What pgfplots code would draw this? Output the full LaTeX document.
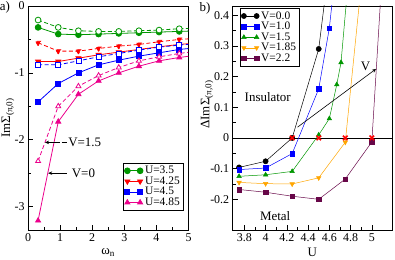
\documentclass[border=0pt]{standalone}
\usepackage{fontspec}
\setmainfont{Liberation Serif}
\usepackage{pgfplots}
\pgfplotsset{compat=1.18}
\usetikzlibrary{arrows.meta}
\definecolor{ggreen}{RGB}{0,150,0}
\definecolor{gorange}{RGB}{255,165,0}
\definecolor{gmaroon}{RGB}{103,7,72}
\pgfplotsset{
  common/.style={
    scale only axis, height=224bp,
    tick align=inside, xtick pos=bottom, ytick pos=left,
    major tick length=5bp, minor tick length=3bp,
    /pgf/number format/assume math mode=true,
    tick label style={font=\fontsize{12}{12}\selectfont},
    label style={font=\fontsize{13}{13}\selectfont},
    axis line style={line width=0.9pt},
    every tick/.style={black, line width=0.6pt},
    legend cell align=left,
    legend style={font=\fontsize{11.5}{11.5}\selectfont, draw=black, line width=0.5pt, inner sep=1pt, row sep=-2.5pt},
    legend image code/.code={\draw plot coordinates {(0cm,0cm) (0.45cm,0cm)};},
  },
  solidser/.style={line width=0.8pt, mark size=2.9bp},
  dashser/.style={line width=0.8pt, dash pattern=on 4bp off 2.5bp, mark size=2.9bp, mark options={solid, fill=white}},
}
\begin{document}
\begin{tikzpicture}[font=\fontsize{13}{13}\selectfont]
\path[use as bounding box] (-28bp,-30bp) rectangle (367bp,230bp);
\node at (-23bp,223bp) {a)};
\node at (177bp,222bp) {b)};
\begin{axis}[common, at={(0,0)}, anchor=south west, width=160.5bp,
  xmin=0, xmax=5, ymin=-3.35, ymax=0,
  xtick={0,1,2,3,4,5}, minor x tick num=1,
  ytick={-3,-2,-1,0}, yticklabels={-3,-2,-1,0}, minor y tick num=1,
  xlabel={ω\textsubscript{n}}, ylabel={ImΣ\textsubscript{(π,0)}},
  x label style={at={(axis description cs:0.5,-0.1)}, anchor=center},
  y label style={at={(axis description cs:-0.125,0.5)}, anchor=center},
  legend style={at={(0.966,0.299)}, anchor=north east},
]
\addplot[solidser, ggreen, mark=*] coordinates {(0.314159,-0.32)(0.942478,-0.42)(1.570796,-0.43)(2.199115,-0.42)(2.827433,-0.41)(3.455752,-0.40)(4.084070,-0.39)(4.712389,-0.38)(5.340708,-0.37)};
\addlegendentry{U=3.5}
\addplot[solidser, red, mark=triangle*, mark options={rotate=180}] coordinates {(0.314159,-0.83)(0.942478,-0.83)(1.570796,-0.78)(2.199115,-0.73)(2.827433,-0.69)(3.455752,-0.65)(4.084070,-0.61)(4.712389,-0.575)(5.340708,-0.55)};
\addlegendentry{U=4.25}
\addplot[solidser, blue, mark=square*, mark size=2.5bp] coordinates {(0.314159,-1.435)(0.942478,-1.16)(1.570796,-1.0)(2.199115,-0.88)(2.827433,-0.81)(3.455752,-0.75)(4.084070,-0.70)(4.712389,-0.65)(5.340708,-0.62)};
\addlegendentry{U=4.5}
\addplot[solidser, magenta, mark=triangle*] coordinates {(0.314159,-3.21)(0.942478,-1.73)(1.570796,-1.32)(2.199115,-1.12)(2.827433,-1.0)(3.455752,-0.9)(4.084070,-0.82)(4.712389,-0.77)(5.340708,-0.73)};
\addlegendentry{U=4.85}
\addplot[dashser, ggreen, mark=*, forget plot] coordinates {(0.314159,-0.21)(0.942478,-0.32)(1.570796,-0.37)(2.199115,-0.38)(2.827433,-0.38)(3.455752,-0.37)(4.084070,-0.36)(4.712389,-0.34)(5.340708,-0.33)};
\addplot[dashser, red, mark=triangle*, mark options={rotate=180}, forget plot] coordinates {(0.314159,-0.55)(0.942478,-0.675)(1.570796,-0.675)(2.199115,-0.635)(2.827433,-0.60)(3.455752,-0.575)(4.084070,-0.535)(4.712389,-0.50)(5.340708,-0.48)};
\addplot[dashser, blue, mark=square*, mark size=2.5bp, forget plot] coordinates {(0.314159,-0.88)(0.942478,-0.88)(1.570796,-0.82)(2.199115,-0.76)(2.827433,-0.71)(3.455752,-0.66)(4.084070,-0.615)(4.712389,-0.585)(5.340708,-0.56)};
\addplot[dashser, magenta, mark=triangle*, forget plot] coordinates {(0.314159,-2.32)(0.942478,-1.5)(1.570796,-1.2)(2.199115,-1.04)(2.827433,-0.92)(3.455752,-0.82)(4.084070,-0.76)(4.712389,-0.71)(5.340708,-0.67)};
\draw[-{Stealth[length=4bp,width=3.5bp]}, line width=0.6pt] (axis cs:1.0,-2.04) -- (axis cs:0.53,-2.04);
\draw[line width=0.6pt] (axis cs:1.05,-2.04) -- (axis cs:1.2,-2.04);
\node[anchor=west, inner sep=0pt] at (axis cs:1.25,-2.04) {V=1.5};
\draw[-{Stealth[length=4bp,width=3.5bp]}, line width=0.6pt] (axis cs:1.2,-2.5) -- (axis cs:0.63,-2.5);
\node[anchor=west, inner sep=0pt] at (axis cs:1.36,-2.5) {V=0};
\end{axis}
\begin{axis}[common, at={(204.7bp,0)}, anchor=south west, width=159.3bp,
  xmin=3.69, xmax=5.19, ymin=-0.3, ymax=0.43,
  xtick={3.8,4,4.2,4.4,4.6,4.8,5}, minor x tick num=1,
  ytick={-0.2,-0.1,0,0.1,0.2,0.3,0.4}, yticklabels={-0.2,-0.1,0,0.1,0.2,0.3,0.4}, minor y tick num=1,
  xlabel={U}, ylabel={ΔImΣ\textsubscript{(π,0)}},
  x label style={at={(axis description cs:0.5,-0.1)}, anchor=center},
  y label style={at={(axis description cs:-0.161,0.56)}, anchor=center},
  legend style={at={(0.046,0.99)}, anchor=north west},
  every axis plot/.append style={line width=0.5pt, mark size=2.6bp},
]
\addplot[black, forget plot] coordinates {(3.5,0)(5.5,0)};
\addplot[black, mark=*] coordinates {(3.75,-0.096)(4.0,-0.076)(4.25,0)(4.5,0.29)(4.6,0.57)};
\addlegendentry{V=0.0}
\addplot[blue, mark=square*, mark size=2.3bp] coordinates {(3.75,-0.103)(4.0,-0.098)(4.25,-0.051)(4.5,0.16)(4.6,0.358)(4.7,0.68)};
\addlegendentry{V=1.0}
\addplot[ggreen, mark=triangle*] coordinates {(3.75,-0.125)(4.0,-0.12)(4.25,-0.109)(4.5,0.01)(4.6,0.063)(4.67,0.174)(4.71,0.246)(4.8,0.60)};
\addlegendentry{V=1.5}
\addplot[gorange, mark=triangle*, mark options={rotate=180}] coordinates {(3.75,-0.145)(4.0,-0.149)(4.25,-0.15)(4.5,-0.13)(4.75,-0.014)(4.9,0.5)};
\addlegendentry{V=1.85}
\addplot[gmaroon, mark=square*, mark size=2.3bp] coordinates {(3.75,-0.168)(4.0,-0.177)(4.25,-0.19)(4.5,-0.20)(4.75,-0.134)(5.0,-0.013)(5.1,0.55)};
\addlegendentry{V=2.2}
\addplot[red, only marks, mark=x, mark size=3.2bp, line width=1.6pt, forget plot] coordinates {(4.25,0)(4.5,0)(4.75,0)(5.0,0)};
\draw[-{Stealth[length=4bp,width=3.5bp]}, line width=0.6pt] (axis cs:4.30,0.035) -- (axis cs:5.04,0.225);
\node at (axis cs:4.94,0.232) {V};
\node at (axis cs:4.02,0.132) {Insulator};
\node at (axis cs:4.09,-0.255) {Metal};
\end{axis}
\end{tikzpicture}
\end{document}
